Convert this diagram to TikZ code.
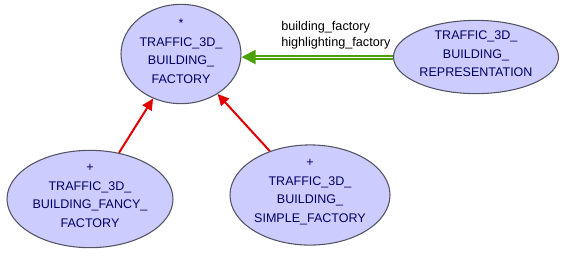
\documentclass[tikz,border=0pt]{standalone}
\usepackage{fontspec}
\setmainfont{Liberation Sans}
\usepackage{xcolor}
\usepackage{tikz}
\usetikzlibrary{shapes.geometric,arrows.meta}

\definecolor{clsfill}{RGB}{204,204,255}
\definecolor{clsdraw}{RGB}{84,84,100}
\definecolor{clstext}{RGB}{0,0,102}
\definecolor{inherit}{RGB}{225,0,0}
\definecolor{client}{RGB}{76,160,12}

\begin{document}
\begin{tikzpicture}[x=0.75pt,y=0.75pt,yscale=-1,xscale=1,
    cls/.style={ellipse,draw=clsdraw,line width=0.8pt,fill=clsfill,text=clstext,
        inner sep=0pt,align=center,font=\fontsize{9.4}{13.9}\selectfont,
        text depth=4.5pt},
    inh/.style={draw=inherit,line width=1.5pt,-{Triangle[length=8.5pt,width=8pt]}},
    cli/.style={draw=client,line width=1.5pt,double=white,double distance=0.75pt,
        -{Triangle[length=10.5pt,width=10.5pt]}}]
    \useasboundingbox (0,0) rectangle (566,255);

    %Shape: Ellipse
    \node [cls,minimum width=90pt,minimum height=72pt] (factory) at (181,54) {*\\TRAFFIC\_3D\_\\BUILDING\_\\FACTORY};
    %Shape: Ellipse
    \node [cls,minimum width=123.75pt,minimum height=51pt] (repr) at (476,57) {TRAFFIC\_3D\_\\BUILDING\_\\REPRESENTATION};
    %Shape: Ellipse
    \node [cls,minimum width=124.5pt,minimum height=72pt] (fancy) at (90,199) {+\\TRAFFIC\_3D\_\\BUILDING\_FANCY\_\\FACTORY};
    %Shape: Ellipse
    \node [cls,text depth=6pt,minimum width=120pt,minimum height=72.75pt] (simple) at (310,195) {+\\TRAFFIC\_3D\_\\BUILDING\_\\SIMPLE\_FACTORY};

    %Straight Lines
    \draw [inh] (fancy) -- (factory);
    %Straight Lines
    \draw [inh] (simple) -- (factory);
    %Straight Lines
    \draw [cli] (repr.west) -- (repr.west -| factory.east);

    % Text Node
    \node [anchor=west,inner sep=0.75pt,align=left,font=\fontsize{9.5}{12}\selectfont] (feats) at (280,35) {building\_factory\\highlighting\_factory};

\end{tikzpicture}
\end{document}
